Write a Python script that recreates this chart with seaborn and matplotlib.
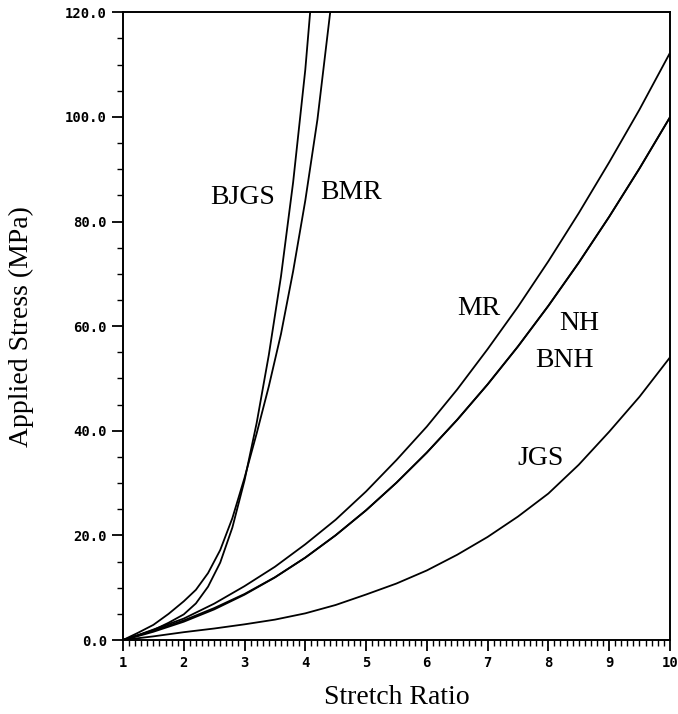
import numpy as np
import pandas as pd
import matplotlib
matplotlib.use('Agg')
import matplotlib.pyplot as plt
from matplotlib.ticker import MultipleLocator, FormatStrFormatter
import seaborn as sns

sns.set_style("ticks")
plt.rcParams['font.family'] = ['DejaVu Sans']

# stretch ratio / stress values
x_bjgs = [1.0, 1.25, 1.5, 1.75, 2.0, 2.2, 2.4, 2.6, 2.8, 3.0, 3.2, 3.4, 3.6, 3.8, 4.0, 4.08]
bjgs   = [0.0, 0.9, 1.9, 3.3, 4.9, 7.0, 10.2, 14.8, 21.5, 30.5, 41.5, 54.5, 69.5, 87.5, 109.0, 120.0]

x_bmr = [1.0, 1.25, 1.5, 1.75, 2.0, 2.2, 2.4, 2.6, 2.8, 3.0, 3.2, 3.4, 3.6, 3.8, 4.0, 4.2, 4.41]
bmr   = [0.0, 1.4, 2.9, 5.0, 7.4, 9.6, 12.8, 17.2, 23.3, 31.0, 39.5, 48.5, 58.5, 70.5, 84.0, 99.5, 120.0]

x_soft = [1.0, 1.25, 1.5, 2.0, 2.5, 3.0, 3.5, 4.0, 4.5, 5.0, 5.5, 6.0, 6.5,
          7.0, 7.5, 8.0, 8.5, 9.0, 9.5, 10.0]
mr  = [0.0, 0.95, 2.0, 4.1, 6.95, 10.3, 14.0, 18.3, 23.0, 28.4, 34.4, 40.8, 47.9,
       55.6, 63.7, 72.4, 81.6, 91.3, 101.4, 112.2]
nh  = [0.0, 0.76, 1.58, 3.5, 5.85, 8.67, 11.96, 15.75, 20.03, 24.8, 30.07, 35.83, 42.1,
       48.86, 56.12, 63.88, 72.13, 80.89, 90.14, 99.9]
bnh = [0.0, 0.9, 1.8, 3.75, 6.1, 8.8, 12.0, 15.75, 20.03, 24.8, 30.07, 35.83, 42.1,
       48.86, 56.12, 63.88, 72.13, 80.89, 90.14, 99.9]
jgs = [0.0, 0.35, 0.7, 1.5, 2.2, 3.0, 3.9, 5.1, 6.7, 8.7, 10.8, 13.3, 16.3,
       19.7, 23.6, 28.0, 33.5, 39.8, 46.5, 54.0]

labels = ['BJGS', 'BMR', 'MR', 'NH', 'BNH', 'JGS']
label_x = [2.97, 4.76, 6.85, 8.50, 8.26, 7.88]
label_y = [84.5, 85.5, 63.3, 60.6, 53.5, 34.7]

frames = [
    pd.DataFrame({'model': 'BJGS', 'stretch': x_bjgs, 'stress': bjgs}),
    pd.DataFrame({'model': 'BMR', 'stretch': x_bmr, 'stress': bmr}),
    pd.DataFrame({'model': 'MR', 'stretch': x_soft, 'stress': mr}),
    pd.DataFrame({'model': 'NH', 'stretch': x_soft, 'stress': nh}),
    pd.DataFrame({'model': 'BNH', 'stretch': x_soft, 'stress': bnh}),
    pd.DataFrame({'model': 'JGS', 'stretch': x_soft, 'stress': jgs}),
]
df = pd.concat(frames, ignore_index=True)

fig = plt.figure(figsize=(6.78, 7.14), dpi=100)
ax = fig.add_axes([0.1814, 0.1036, 0.8066, 0.8792])

sns.lineplot(data=df, x='stretch', y='stress', hue='model', units='model',
             estimator=None, palette={m: 'black' for m in labels},
             linewidth=1.3, legend=False, ax=ax)

ax.set_xlim(1, 10)
ax.set_ylim(0, 120)

for s in ax.spines.values():
    s.set_visible(True)
    s.set_linewidth(1.4)
    s.set_color('black')

ax.xaxis.set_major_locator(MultipleLocator(1))
ax.xaxis.set_minor_locator(MultipleLocator(0.1))
ax.yaxis.set_major_locator(MultipleLocator(20))
ax.yaxis.set_minor_locator(MultipleLocator(5))
ax.xaxis.set_major_formatter(FormatStrFormatter('%d'))
ax.yaxis.set_major_formatter(FormatStrFormatter('%.1f'))

ax.tick_params(which='major', direction='out', length=8, width=1.3, color='black')
ax.tick_params(which='minor', direction='out', length=4, width=1.0, color='black')
ax.tick_params(top=False, right=False)

for t in ax.get_xticklabels() + ax.get_yticklabels():
    t.set_fontfamily('DejaVu Sans Mono')
    t.set_fontweight('bold')
    t.set_fontsize(10)
    t.set_color('black')

serif = ['Liberation Serif', 'DejaVu Serif']
ax.set_xlabel('Stretch Ratio', fontsize=20, family=serif, color='black')
ax.set_ylabel('Applied Stress (MPa)', fontsize=20, family=serif, color='black')
ax.xaxis.set_label_coords(0.5, -0.072)
ax.yaxis.set_label_coords(-0.163, 0.5)

for lab, lx, ly in zip(labels, label_x, label_y):
    ax.text(lx, ly, lab, fontsize=20, family=serif, ha='center', va='center', color='black')

fig.savefig('out.png', dpi=100, facecolor='white')
